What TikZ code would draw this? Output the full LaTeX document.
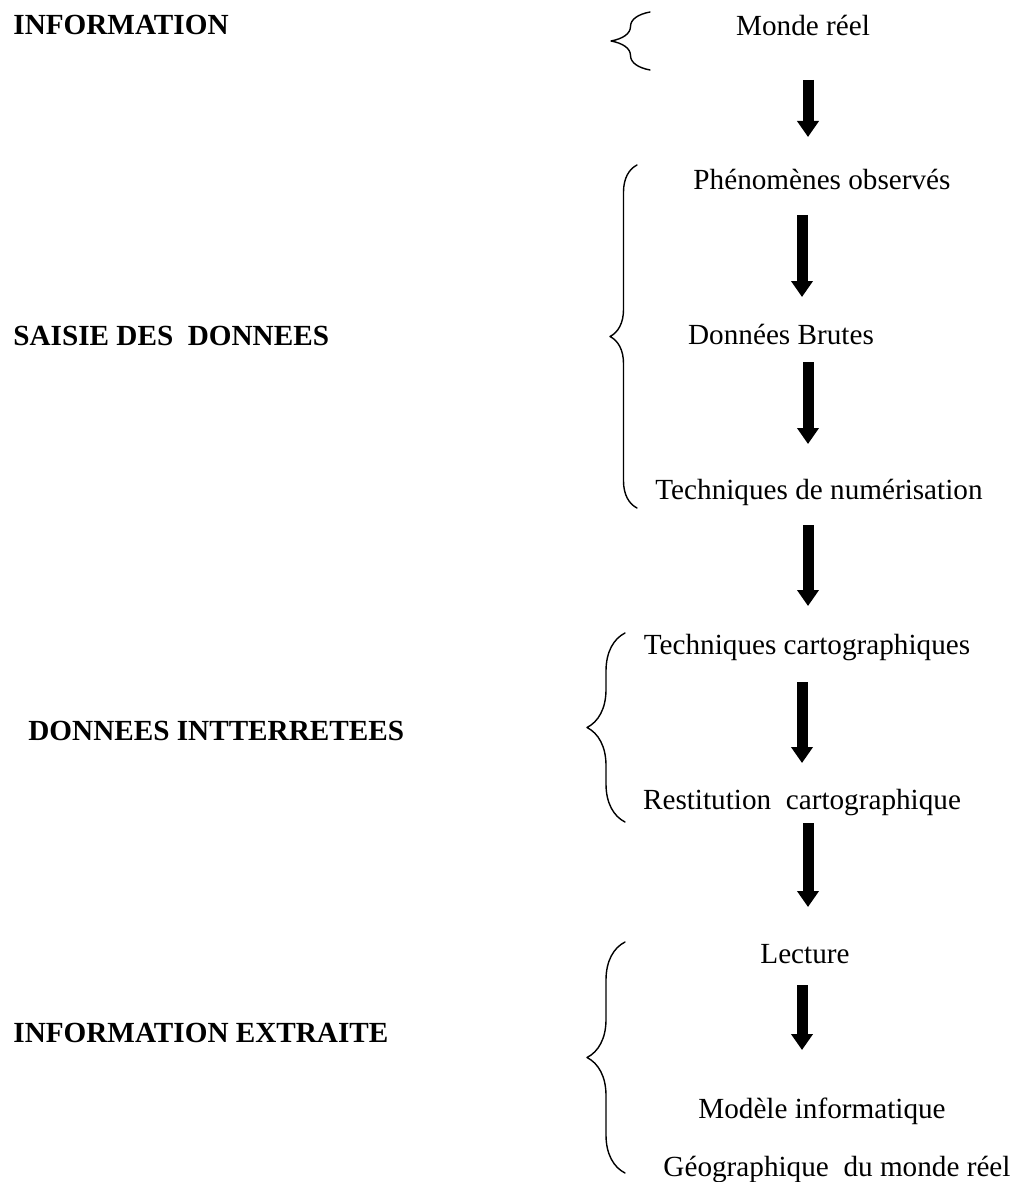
\documentclass[tikz,border=0pt]{standalone}
\usepackage{fontspec}
\setmainfont{Liberation Serif}
\usetikzlibrary{arrows.meta,calc,decorations.pathreplacing}
\tikzset{
	etape/.style={anchor=base, inner sep=0pt},
	titre/.style={anchor=base west, inner sep=0pt, font=\fontsize{14.6pt}{17pt}\selectfont\bfseries},
	fleche/.style={line width=5.5pt, line cap=butt, -{Triangle[width=10.5pt,length=8pt]}},
	accolade/.style={decorate, decoration={brace, amplitude=#1}, line width=0.7pt},
}
\begin{document}
\begin{tikzpicture}[x=0.5pt, y=-0.5pt, font=\fontsize{14.6pt}{17pt}\selectfont, line join=round, line cap=round]
	\useasboundingbox (0,0) rectangle (1014,1182);
	% titres a gauche
	\node[titre] (info) at (13,35) {INFORMATION};
	\node[titre] (saisie) at (13,345) {SAISIE DES \ DONNEES};
	\node[titre] (interp) at (28,740) {DONNEES INTTERRETEES};
	\node[titre] (extr) at (13,1042) {INFORMATION EXTRAITE};
	% etapes
	\node[etape] (mr) at (803,36) {Monde réel};
	\node[etape] (pho) at (822,190) {Phénomènes observés};
	\node[etape] (dbr) at (781,344) {Données Brutes};
	\node[etape] (tnum) at (819,499) {Techniques de numérisation};
	\node[etape] (tca) at (807,654) {Techniques cartographiques};
	\node[etape] (rest) at (802,809) {Restitution \ cartographique};
	\node[etape] (lec) at (805,963) {Lecture};
	\node[etape] (mod) at (822,1118) {Modèle informatique};
	\node[etape] (geo) at (837,1176) {Géographique \ du monde réel};
	% accolades
	\draw[accolade=19.5pt] (650,70) -- (650,12);
	\draw[accolade=13.5pt] (637,508) -- (637,165);
	\draw[accolade=19pt] (625,822) -- (625,633);
	\draw[accolade=19pt] (625,1173) -- (625,942);
	% fleches
	\draw[fleche] ($(mr.base)+(5,44)$) -- ($(pho.base)+(-14,-53)$);
	\draw[fleche] ($(pho.base)+(-20,25)$) -- ($(dbr.base)+(21,-47)$);
	\draw[fleche] ($(dbr.base)+(27,18)$) -- ($(tnum.base)+(-11,-55)$);
	\draw[fleche] ($(tnum.base)+(-11,26)$) -- ($(tca.base)+(1,-48)$);
	\draw[fleche] ($(tca.base)+(-5,28)$) -- ($(rest.base)+(0,-46)$);
	\draw[fleche] ($(rest.base)+(6,14)$) -- ($(lec.base)+(3,-56)$);
	\draw[fleche] ($(lec.base)+(-3,22)$) -- ($(mod.base)+(-20,-68)$);
\end{tikzpicture}
\end{document}
